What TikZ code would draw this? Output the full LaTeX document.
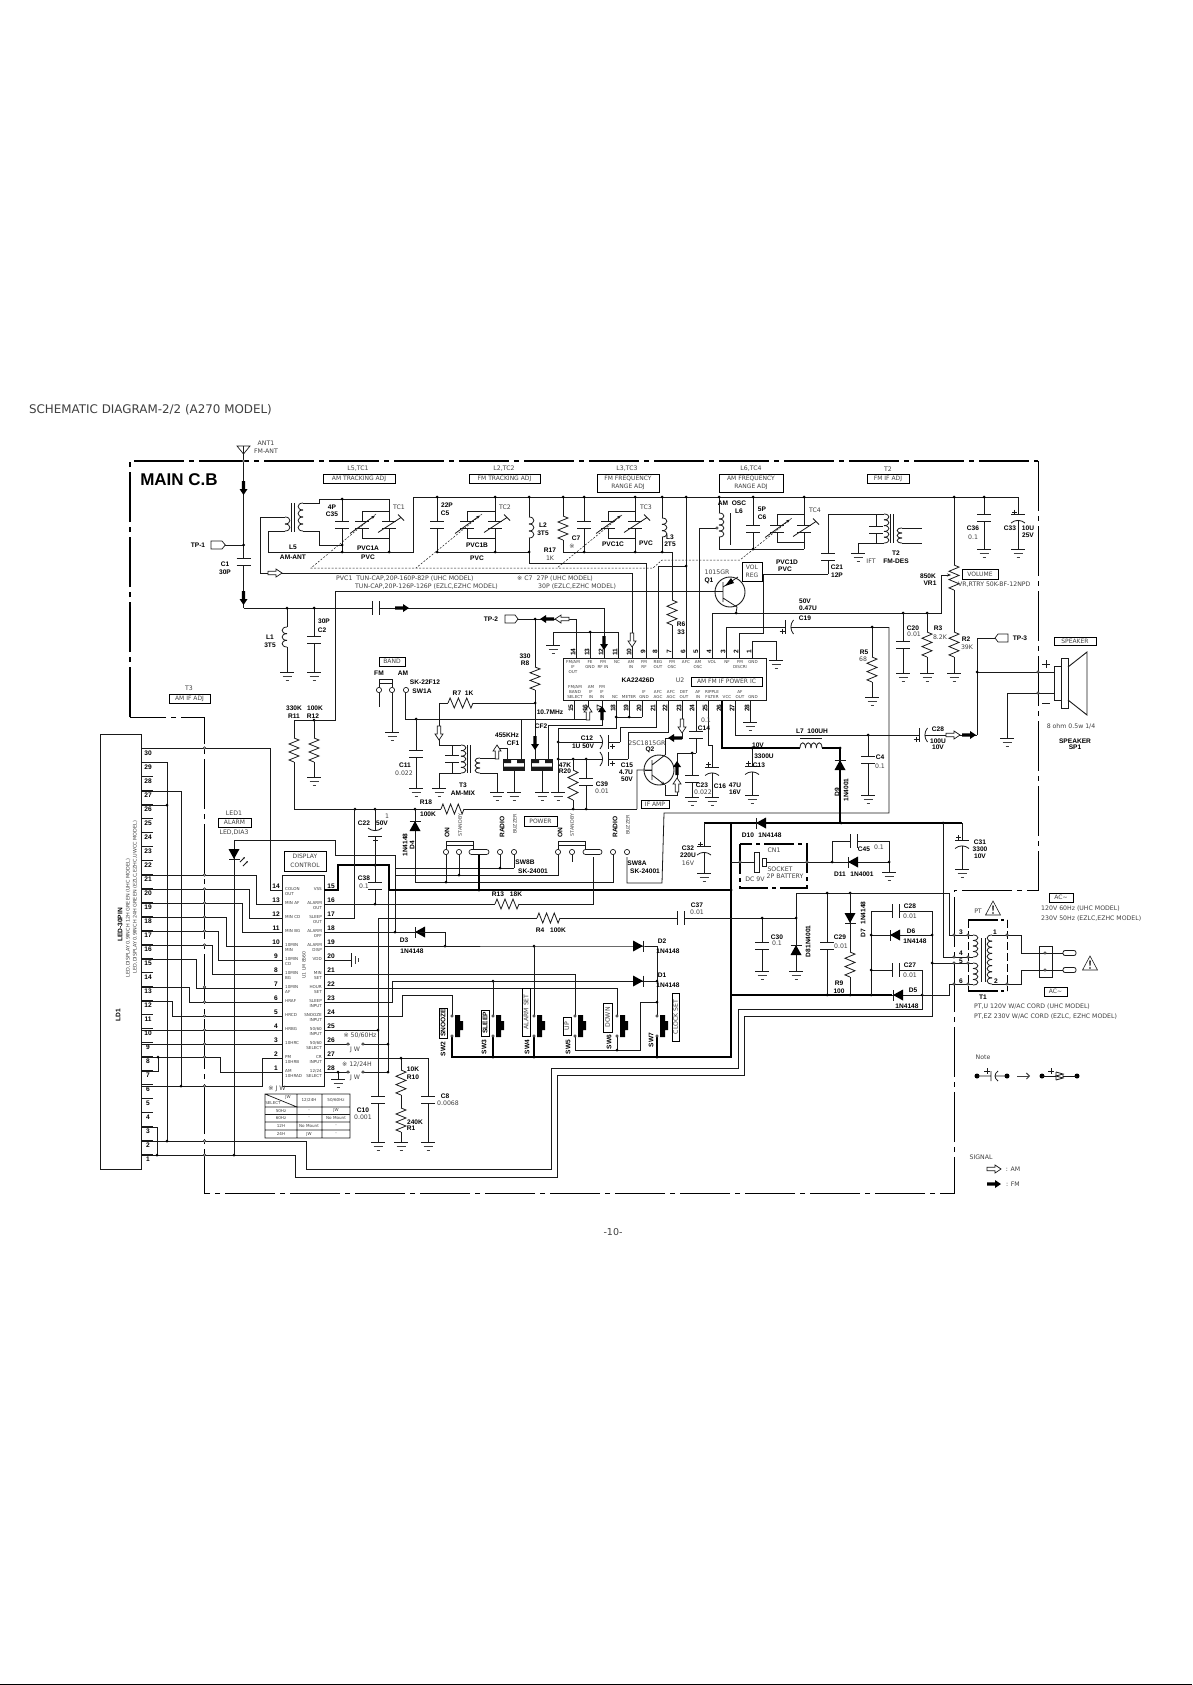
\documentclass[tikz,border=0pt]{standalone}
\usepackage{fontspec}
\setmainfont{DejaVu Sans}
\newfontfamily\labfont{Liberation Sans}
\usetikzlibrary{arrows.meta}
\definecolor{ink}{HTML}{1A1A1A}
\definecolor{soft}{HTML}{404040}
\newcount\nc
\tikzset{
 w/.style={line width=.8pt,draw=ink,line join=miter},
 tk/.style={line width=2.2pt,draw=black},
 md/.style={line width=1.4pt,draw=black},
 frameline/.style={draw=black,dash pattern=on 50pt off 5pt on 5pt off 5pt},
 dashgang/.style={line width=.5pt,draw=ink,dash pattern=on 2pt off 1.5pt},
 boldlab/.style={inner sep=0pt,text=black,font=\labfont\fontsize{6.6}{7.2}\selectfont\bfseries,align=center},
 thinlab/.style={inner sep=0pt,text=soft,font=\fontsize{6.2}{7}\selectfont,align=center},
 tiny/.style={inner sep=0pt,text=soft,font=\fontsize{4.1}{5}\selectfont,align=center},
 boxlab/.style={draw=black,line width=.7pt,fill=white,inner sep=0pt,text=soft,font=\fontsize{6}{8.5}\selectfont,align=center},
}
\newcommand\zN{\global\advance\nc by 1 }
\newcommand\zB[3]{\zN\node[boldlab] (n\the\nc) at (#1,#2) {#3};}
\newcommand\zT[3]{\zN\node[thinlab] (n\the\nc) at (#1,#2) {#3};}
\newcommand\zL[3]{\zN\node[thinlab,anchor=west] (n\the\nc) at (#1,#2) {#3};}
\newcommand\zBR[3]{\zN\node[boldlab,rotate=90] (n\the\nc) at (#1,#2) {#3};}
\newcommand\zTR[3]{\zN\node[thinlab,rotate=90,font=\fontsize{4.8}{6}\selectfont] (n\the\nc) at (#1,#2) {#3};}
\newcommand\zX[5]{\zN\draw[draw=black,line width=.7pt,fill=white] (#1,#2) rectangle (#3,#4); \node[thinlab,font=\fontsize{6}{8.5}\selectfont] (n\the\nc) at ({(#1+#3)/2},{(#2+#4)/2}) {#5};}
\newcommand\zXR[5]{\zN\draw[draw=black,line width=.7pt,fill=white] (#1,#2) rectangle (#3,#4); \node[thinlab,rotate=90] (n\the\nc) at ({(#1+#3)/2},{(#2+#4)/2}) {#5};}
\newcommand\zXB[5]{\zN\draw[draw=black,line width=.7pt,fill=white] (#1,#2) rectangle (#3,#4); \node[boldlab,rotate=90] (n\the\nc) at ({(#1+#3)/2},{(#2+#4)/2}) {#5};}
\newcommand\zG[2]{\begin{scope}[shift={(#1,#2)}]\draw[w] (-7,0)--(7,0); \draw[w,draw=soft,line width=.6pt] (-4.5,4)--(4.5,4); \draw[w,draw=soft,line width=.6pt] (-1.5,8)--(1.5,8);\end{scope}}
\newcommand\zD[2]{\fill[black] (#1,#2) circle (1.5pt);}
\newcommand\zO[2]{\draw[line width=.5pt,draw=ink,fill=white] (#1,#2) circle (1.3pt);}
\newcommand\zC[2]{\draw[line width=.7pt,draw=ink,fill=white] (#1,#2) circle (2.6pt);}
\newcommand\zVR[3]{\pgfmathsetmacro\hh{(#3-#2)/12}\draw[w] (#1,#2) -- ++(5,\hh) -- ++(-10,{2*\hh}) -- ++(10,{2*\hh}) -- ++(-10,{2*\hh}) -- ++(10,{2*\hh}) -- ++(-10,{2*\hh}) -- (#1,#3);}
\newcommand\zHR[3]{\pgfmathsetmacro\hh{(#3-#2)/12}\draw[w] (#2,#1) -- ++(\hh,-5) -- ++({2*\hh},10) -- ++({2*\hh},-10) -- ++({2*\hh},10) -- ++({2*\hh},-10) -- ++({2*\hh},10) -- (#3,#1);}
\newcommand\zVC[4]{\draw[w] (#1,#2)--(#1,{#3-3.5}) (#1,{#3+3.5})--(#1,#4) ({#1-7},{#3-3.5})--({#1+7},{#3-3.5}) ({#1-7},{#3+3.5})--({#1+7},{#3+3.5});}
\newcommand\zHC[4]{\draw[w] (#2,#1)--({#3-3.5},#1) ({#3+3.5},#1)--(#4,#1) ({#3-3.5},{#1-7})--({#3-3.5},{#1+7}) ({#3+3.5},{#1-7})--({#3+3.5},{#1+7});}
\newcommand\zVP[4]{\draw[w] (#1,#2)--(#1,{#3-3.5}) (#1,{#3+2})--(#1,#4) ({#1-7},{#3-3.5})--({#1+7},{#3-3.5}); \draw[w] ({#1-7},{#3+5}) .. controls ({#1-3},{#3+1.5}) and ({#1+3},{#3+1.5}) .. ({#1+7},{#3+5}); \draw[w] ({#1-6},{#3-6})--({#1-1},{#3-6}) ({#1-3.5},{#3-8.5})--({#1-3.5},{#3-3.5});}
\newcommand\zVPR[4]{\draw[w] (#1,#2)--(#1,{#3-2}) (#1,{#3+3.5})--(#1,#4) ({#1-7},{#3+3.5})--({#1+7},{#3+3.5}); \draw[w] ({#1-7},{#3-5}) .. controls ({#1-3},{#3-1.5}) and ({#1+3},{#3-1.5}) .. ({#1+7},{#3-5}); \draw[w] ({#1-2},{#3+7})--({#1+3},{#3+7}) ({#1+.5},{#3+4.5})--({#1+.5},{#3+9.5});}
\newcommand\zHP[4]{\draw[w] (#2,#1)--({#3-3.5},#1) ({#3+2},#1)--(#4,#1) ({#3-3.5},{#1-7})--({#3-3.5},{#1+7}); \draw[w] ({#3+5},{#1-7}) .. controls ({#3+1.5},{#1-3}) and ({#3+1.5},{#1+3}) .. ({#3+5},{#1+7}); \draw[w] ({#3-9},{#1+4})--({#3-4},{#1+4}) ({#3-6.5},{#1+1.5})--({#3-6.5},{#1+6.5});}
\newcommand\zHPR[4]{\draw[w] (#2,#1)--({#3-2},#1) ({#3+3.5},#1)--(#4,#1) ({#3+3.5},{#1-7})--({#3+3.5},{#1+7}); \draw[w] ({#3-5},{#1-7}) .. controls ({#3-1.5},{#1-3}) and ({#3-1.5},{#1+3}) .. ({#3-5},{#1+7}); \draw[w] ({#3+5},{#1+4})--({#3+10},{#1+4}) ({#3+7.5},{#1+1.5})--({#3+7.5},{#1+6.5});}
\newcommand\zVL[5]{\pgfmathsetmacro\hh{(#3-#2)/#5}\foreach \i in {1,...,#5}{\draw[w] (#1,{#2+(\i-1)*\hh}) .. controls ({#1+#4*6.5},{#2+(\i-1)*\hh}) and ({#1+#4*6.5},{#2+\i*\hh}) .. (#1,{#2+\i*\hh});}}
\newcommand\zHL[5]{\pgfmathsetmacro\hh{(#3-#2)/#5}\foreach \i in {1,...,#5}{\draw[w] ({#2+(\i-1)*\hh},#1) .. controls ({#2+(\i-1)*\hh},{#1+#4*7}) and ({#2+\i*\hh},{#1+#4*7}) .. ({#2+\i*\hh},#1);}}
\newcommand\zF[3]{\begin{scope}[shift={(#1,#2)},rotate=#3]\fill[black] (-7,-1.7)--(1,-1.7)--(1,-4)--(7,0)--(1,4)--(1,1.7)--(-7,1.7)--cycle;\end{scope}}
\newcommand\zA[3]{\begin{scope}[shift={(#1,#2)},rotate=#3]\draw[line width=.7pt,draw=ink,fill=white] (-7,-1.7)--(1,-1.7)--(1,-4)--(7,0)--(1,4)--(1,1.7)--(-7,1.7)--cycle;\end{scope}}
\newcommand\zDi[3]{\begin{scope}[shift={(#1,#2)},rotate=#3]\fill[black] (-5,-5.5)--(5,0)--(-5,5.5)--cycle; \draw[w] (5,-5.5)--(5,5.5);\end{scope}}
\newcommand\zPV[2]{\begin{scope}[shift={(#1,#2)}]\draw[w] (-7,-3.5)--(7,-3.5) (-7,3.5)--(7,3.5); \draw[w,-{Stealth[length=4pt]}] (-12,9)--(13,-9);\end{scope}}
\newcommand\zTC[2]{\begin{scope}[shift={(#1,#2)}]\draw[w] (-7,-3.5)--(7,-3.5) (-7,3.5)--(7,3.5); \draw[w] (-11,8)--(12,-7) (9,-10)--(15,-4);\end{scope}}
\newcommand\zCF[1]{\begin{scope}[shift={(#1,0)}]\draw[w,fill=white] (-10.5,759) rectangle (10.5,770); \fill[ink] (-10,759.5) rectangle (-3,763) (3,759.5) rectangle (10,763) (-10.5,766.5) rectangle (10.5,770); \draw[w] (0,770)--(0,792);\end{scope}\zG{#1}{792}}
\newcommand\zSW[1]{\fill[black] ({#1+3},1015) rectangle ({#1+8},1037) ({#1+8},1021) rectangle ({#1+11},1030); \zO{#1}{1016}\zO{#1}{1036}}
\newcommand\zWarn[2]{\begin{scope}[shift={(#1,#2)}]\draw[line width=.6pt,draw=ink] (0,-7)--(7.5,7)--(-7.5,7)--cycle; \fill[black] (-.8,-2.5)--(.8,-2.5)--(.4,3)--(-.4,3)--cycle; \fill[black] (0,5) circle (.8pt);\end{scope}}
\newcommand\zTP[3]{\draw[line width=.7pt,draw=ink,fill=white] (#1,{#2-4})--(#3,{#2-4})--({#3+(#3-#1)*.3},#2)--(#3,{#2+4})--(#1,{#2+4})--cycle;}
\begin{document}
\begin{tikzpicture}[x=1pt,y=-1pt]
\useasboundingbox (0,0) rectangle (1192,1685);
\fill[white] (0,0) rectangle (1192,1685);
\draw[line width=1pt,draw=black] (0,1684.3)--(1192,1684.3);
% frame
\draw[frameline,line width=1.7pt] (130,717)--(130,461)--(1038,461);
\draw[frameline,line width=1pt] (1038,461)--(1038,890)--(954,890)--(954,1193)--(204,1193)--(204,717)--(130,717);
\zT{150.5}{410}{\fontsize{11.9}{13}\selectfont SCHEMATIC DIAGRAM-2/2 (A270 MODEL)}
\zT{613}{1232}{\fontsize{9.5}{12}\selectfont -10-}
\zN\node[inner sep=0pt,font=\labfont\fontsize{17}{18}\selectfont\bfseries] (n\the\nc) at (179,480) {MAIN C.B};
% antenna
\draw[w] (243.5,446)--(243.5,558);
\draw[line width=.7pt,draw=ink] (237,446)--(250,446)--(243.5,454)--cycle;
\zO{243.5}{461}
\zVC{243.5}{545}{562}{608}
\draw[w] (243.5,608)--(372,608);
\zHC{608}{372}{375.5}{604}
\draw[w] (604,608)--(604,658);
\draw[w] (225,545)--(243.5,545);
\zTP{211}{545}{222}
\zD{243.5}{545}
\zF{243.5}{488}{-90}\zF{243.5}{598}{-90}\zF{402}{608}{0}\zF{604}{643}{-90}
% L1 C2
\draw[w] (287,608)--(287,627) (287,647)--(287,672);
\zVL{287}{627}{647}{-1}{3}\zG{287}{672}\zD{287}{608}
\zVC{314}{608}{640}{672}\zG{314}{672}\zD{314}{608}
% L5 section
\draw[w] (285,517)--(260,517)--(260,573)--(632,573)--(632,658);
\zVL{285}{517}{531}{1}{2}
\draw[w] (285,531)--(268,531)--(268,552)--(413,552)--(413,497)--(1018,497);
\draw[w] (291,503)--(291,532) (294,503)--(294,532);
\zVL{303}{503}{531}{-1}{4}
\draw[w] (303,503)--(319,503)--(319,499)--(389,499)--(389,521);
\draw[w] (303,531)--(319,531)--(319,545)--(342,545);
\zVC{342}{499}{524.5}{552}
\draw[w] (362,521)--(362,511)--(389,511) (362,528)--(362,538)--(389,538) (389,528)--(389,552);
\zPV{362}{524.5}\zTC{389}{524.5}
\zD{342}{499}\zD{342}{545}\zD{342}{552}\zD{389}{552}
\zA{275}{573}{0}
% C5 section
\zVC{437}{497}{524.5}{552}
\draw[w] (437,552)--(529,552);
\draw[w] (467,521)--(467,511)--(495,511) (467,528)--(467,538)--(495,538) (495,497)--(495,521) (495,528)--(495,552);
\zPV{467}{524.5}\zTC{495}{524.5}
\zD{437}{497}\zD{495}{497}\zD{495}{552}\zD{437}{552}
\draw[w] (529,497)--(529,517) (529,538)--(529,563)--(646,563)--(646,658);
\zVL{529}{517}{538}{1}{3}
\zD{529}{497}\zD{529}{552}
% R17, C7, TC3, L3
\draw[w] (563,497)--(563,516) (563,540)--(563,552)--(672,552)--(672,600) (672,625)--(672,658);
\zVR{563}{516}{540}\zVR{672}{600}{625}
\zVC{584}{497}{524.5}{552}
\draw[w] (608,521)--(608,511)--(635,511) (608,528)--(608,538)--(635,538) (635,497)--(635,521) (635,528)--(635,552);
\zPV{608}{524.5}\zTC{635}{524.5}
\draw[w] (662,497)--(662,518) (662,537)--(662,552);
\zVL{662}{518}{537}{1}{3}
\zD{563}{497}\zD{584}{497}\zD{635}{497}\zD{662}{497}\zD{584}{552}\zD{635}{552}\zD{662}{552}
\draw[w] (686,497)--(686,658) (658,658)--(658,566)--(686,566);
\zD{686}{497}\zD{686}{566}
% L6
\draw[w] (719,497)--(719,513) (719,537)--(719,549)--(804,549);
\zVL{719}{513}{537}{1}{4}
\draw[w] (730,513)--(730,545);
\draw[w] (699,658)--(699,528)--(717,528);\zO{717}{528}
\zVC{753}{497}{528.5}{549}
\draw[w] (777,525)--(777,514)--(804,514) (777,532)--(777,542)--(804,542) (804,497)--(804,525) (804,532)--(804,549);
\zPV{777}{528.5}\zTC{804}{528.5}
\zD{719}{497}\zD{753}{497}\zD{804}{497}\zD{753}{549}
% gang
\draw[dashgang] (376,514)--(311,568)--(653,568)--(662,560)--(740,560)--(792,518);
\draw[dashgang] (482,514)--(416,568) (622,515)--(557,568);
% C21, T2
\zVC{828}{514}{556.5}{574}
\draw[w] (828,514)--(884,514) (828,574)--(763,574)--(763,633)--(739,633)--(739,658);
\zVL{884}{514}{543}{1}{5}
\zVC{876}{514}{530}{543}
\draw[w] (858,553)--(858,543)--(884,543);\zG{858}{553}
\draw[w] (890,514)--(890,543) (893,514)--(893,543);
\zVL{902}{528}{543}{-1}{3}
\draw[w] (902,528)--(922,528) (902,543)--(922,543);
% right side
\draw[w] (954,497)--(954,565) (954,590)--(954,632) (954,657)--(954,673);
\zVR{954}{565}{590}\zVR{954}{632}{657}\zG{954}{673}\zD{954}{497}
\zVC{984}{497}{518}{549}\zG{984}{549}\zD{984}{497}
\zVP{1018}{497}{518}{549}\zG{1018}{549}
\draw[w,-{Stealth[length=4pt]}] (712,658)--(712,613)--(941,613)--(941,575)--(951,575);
\zD{736}{613}\zD{903}{613}\zD{927}{613}
\zVC{903}{613}{644.5}{673}\zG{903}{673}
\draw[w] (927,613)--(927,632) (927,657)--(927,673);\zVR{927}{632}{657}\zG{927}{673}
% C19
\draw[w] (726,658)--(726,627)--(783,627);
\zHP{627}{783}{788.5}{889}
\draw[w] (889,627)--(889,813)--(664,813)--(662,883)--(627,883)--(627,857);
\draw[w] (872,627)--(872,657) (872,682)--(872,697);\zVR{872}{657}{682}\zG{872}{697}\zD{872}{627}
% TP-3, speaker
\draw[w] (995,638)--(977,638)--(977,735) (977,672)--(1054,672) (1054,693)--(1007,693)--(1007,738);
\zTP{1008}{638}{998}
\zD{977}{672}\zO{1038}{672}\zO{1038}{693}\zG{1007}{738}
\draw[line width=.9pt,draw=ink,fill=white] (1054,666) rectangle (1061,700) (1061,658) rectangle (1068,708);
\draw[line width=.9pt,draw=ink] (1068,667)--(1087,652)--(1087,715)--(1068,700);
% C28, pin 27
\draw[w] (735,700)--(735,735)--(917,735);
\zHP{735}{917}{922.5}{977}
\zD{868}{735}\zVC{868}{735}{759.5}{795}\zG{868}{795}
\zA{953}{735}{0}\zF{969}{735}{0}
% U2 wires
\draw[w] (518,619)--(576,619)--(576,658);
\draw[w] (535,619)--(535,667) (535,690)--(535,760);\zVR{535}{667}{690}
\zD{535}{619}\zD{535}{703}
\zTP{505}{619}{515}
\zF{547}{619}{180}\zA{562}{619}{180}
\draw[w] (439,745)--(439,703)--(448,703) (473,703)--(535,703);\zHR{703}{448}{473}
\draw[w] (553,645)--(553,632)--(618,632)--(618,658) (590,632)--(590,658);\zG{553}{645}\zD{590}{632}
\draw[w] (752,658)--(752,641)--(776,641)--(776,660);\zG{776}{660}
\draw[w] (750,700)--(750,722);\zG{750}{722}
\zA{632}{640}{-90}
\draw[w] (574,700)--(574,719)--(405,719) (588,700)--(588,719)--(574,719) (521,719)--(521,760) (405,693)--(405,719);
\draw[w] (602,700)--(602,725)--(548,725)--(548,760);
\draw[w] (616,700)--(616,728)--(558,728)--(558,792);\zG{558}{792}
\draw[w] (616,717)--(642,717) (629,700)--(629,717) (642,700)--(642,717);
\zD{616}{717}\zD{629}{717}\zD{416}{719}
\zA{588}{713}{90}\zF{602}{713}{90}
\zD{558}{742}\zD{558}{759}\zD{573}{759}\zD{586}{759}
\zHPR{742}{558}{605}{620}
\draw[w] (620,742)--(620,727)--(656,727)--(656,700);
\zHPR{759}{558}{605}{628}
\draw[w] (628,759)--(628,732)--(668,732)--(668,700);
\draw[w] (682,700)--(682,738)--(665,738)--(665,755);
\zF{675}{738}{180}\zA{682}{726}{-90}
% Q2
\draw[line width=.9pt,draw=ink] (659,770) circle (15pt);
\draw[w] (652,760)--(652,780) (652,770)--(637,770)--(637,809) (652,765)--(665,755);
\draw[w,-{Stealth[length=4pt]}] (652,775)--(665,785);
\draw[w] (665,785)--(665,795)--(677,795)--(677,753)--(696,753);
\zA{677}{785}{90}\zF{677}{768}{90}\zD{692}{753}
\zVC{696}{700}{735}{753}
\zVC{692}{753}{778.5}{797}\zG{692}{797}
\draw[w] (708,700)--(708,745)--(712,745);
\zVP{712}{745}{770.5}{797}\zG{712}{797}
% pin 26 thick
\draw[md] (722,700)--(722,748)--(800,748);
\draw[md] (822,748)--(840,748)--(840,823);
\zHL{748}{800}{822}{-1}{4}
\draw[w] (800,738)--(822,738);
\zDi{840}{765}{90}\zD{840}{748}
\zVP{752}{748}{769.5}{795}\zG{752}{795}\zD{752}{748}
% Q1
\draw[line width=.9pt,draw=ink] (730,592) circle (15pt);
\draw[w] (723,582)--(723,602) (723,598)--(737,607)--(736,613);
\draw[w] (738,577)--(723,587);
\fill[black] (725,586)--(731,578)--(734,583)--cycle;
\draw[w] (294,720)--(335,720)--(335,591)--(723,591);
\zD{314}{720}
\draw[w] (294,720)--(294,738) (294,762)--(294,809)--(441,809) (464,809)--(637,809);
\zVR{294}{738}{762}\zHR{809}{441}{464}
\draw[w] (314,720)--(314,738) (314,762)--(314,777);\zVR{314}{738}{762}\zG{314}{777}
\zD{355}{809}\zD{375}{809}\zD{415}{809}\zD{573}{809}\zD{586}{809}
% band
\draw[w] (379,693)--(379,707) (392,693)--(392,732);\zG{392}{732}
\draw[line width=.7pt,draw=ink] (379,687)--(379,679)--(392,679)--(392,687) (379,683)--(392,683);
\zC{379}{690}\zC{392}{690}\zC{406}{690}
\zVC{416}{719}{753.5}{788}\zG{416}{788}
% T3
\draw[w] (439,745)--(461,745) (439,773)--(461,773) (439,773)--(439,788);\zG{439}{788}
\zVL{461}{745}{773}{1}{5}
\zVC{452}{745}{758.5}{773}
\draw[w] (467,745)--(467,773) (470,745)--(470,773);
\zVL{480}{758}{773}{-1}{3}
\draw[w] (480,758)--(497,758)--(497,748)--(507,748)--(507,760) (480,773)--(497,773)--(497,792);\zG{497}{792}
\zA{439}{733}{-90}\zA{497}{752}{90}
\zCF{514}\zCF{542}
\zF{535}{743}{-90}
% R20, C39
\draw[w] (573,759)--(573,770) (573,800)--(573,809);\zVR{573}{770}{800}
\zVC{586}{759}{781.5}{809}
% upper thick power rail
\draw[tk] (731,823)--(962,823);
\draw[tk] (731,823)--(731,1057)--(452,1057)--(452,1036);
\draw[tk] (704,823)--(731,823);
\draw[tk] (493,1036)--(493,1057) (534,1036)--(534,1057) (657,1036)--(657,1057);
\zVP{704}{823}{850}{873}\zG{704}{873}
\zVP{962}{823}{843.5}{869}\zG{962}{869}
\zDi{761}{823}{180}\zD{841}{823}\zD{943}{823}
\draw[w] (943,823)--(943,957)--(968,957);
% CN1
\draw[frameline,line width=1.2pt,dash pattern=on 30pt off 4pt on 4pt off 4pt] (740,844) rectangle (807,888);
\draw[w] (731,862)--(754,862) (766,862)--(889,862)--(889,872);
\draw[w,fill=white] (754,852) rectangle (759,872) (762,858) rectangle (766,866);
\zO{740}{862}\zO{807}{862}\zD{832}{862}\zD{889}{862}\zG{889}{872}
\zDi{853}{862}{180}
\draw[w] (832,862)--(832,841);
\zHC{841}{832}{853.5}{889}
\draw[w] (889,841)--(889,862);
% AC section
\draw[w] (378,918)--(537,918) (560,918)--(677,918);\zHR{918}{537}{560}
\zHC{918}{677}{680.5}{796}
\draw[w] (796,893)--(949,893)--(949,935)--(968,935);
\draw[w] (796,893)--(796,971);\zDi{796}{950}{90}\zG{796}{971}
\zVC{762}{918}{946}{971}\zG{762}{971}\zD{762}{918}\zD{796}{918}
\zVC{827}{893}{946}{995}\zD{827}{893}\zD{850}{893}
\draw[w] (850,893)--(850,952) (850,977)--(850,995);\zVR{850}{952}{977}\zDi{850}{918}{-90}
\draw[tk] (731,995)--(892,995);
\zD{827}{995}\zD{850}{995}\zD{871}{995}
\draw[w] (892,995)--(949,995)--(949,984)--(968,984);
\zDi{898}{995}{180}\zD{922}{995}
\draw[w] (871,995)--(871,911);
\zHC{911}{871}{895.5}{932}
\draw[w] (932,911)--(932,1016)--(744,1016)--(744,1075)--(557,1075)--(557,1177)--(295,1177)--(295,1155)--(141,1155);
\draw[w] (871,935)--(932,935);\zDi{895}{935}{180}\zD{871}{935}\zD{932}{935}
\zHC{970}{871}{895.5}{922}\zD{871}{970}
\draw[w] (922,970)--(922,1009)--(738,1009)--(738,1068)--(551,1068)--(551,1169)--(306,1169)--(306,1141)--(141,1141);
\draw[w] (932,963)--(968,963);\zD{932}{963}
% T1
\draw[line width=1.5pt,draw=black,dash pattern=on 30pt off 3pt on 3pt off 3pt] (968,920)--(1007,920) (968,991)--(1007,991);
\draw[line width=.7pt,draw=black,dash pattern=on 8pt off 3pt] (968,920)--(968,991) (1007,920)--(1007,991);
\draw[w] (968,935)--(973,935) (968,957)--(973,957) (968,963)--(973,963) (968,984)--(973,984);
\zVL{973}{935}{957}{1}{4}\zVL{973}{963}{985}{1}{4}
\draw[w] (981,938)--(981,982) (985,938)--(985,982);
\zVL{992}{935}{984}{-1}{8}
\draw[w] (992,935)--(1021,935)--(1021,953)--(1063,953) (992,984)--(1021,984)--(1021,970)--(1063,970);
\foreach \p in {935,957,963,984}{\zO{954}{\p}\zO{968}{\p}}
\zO{1007}{935}\zO{1007}{984}
\draw[w] (1039,946) rectangle (1052,977);
\zO{1045}{953}\zO{1045}{970}
\draw[w,fill=white,rounded corners=2pt] (1063,950.5) rectangle (1076,955.5) (1063,967.5) rectangle (1076,972.5);
\zWarn{993}{908}\zWarn{1090}{963}
% U1 wires
\draw[line width=.9pt,draw=ink,fill=white] (282,875) rectangle (324,1086);
\draw[w] (141,748)--(270,748)--(270,890)--(282,890);
\draw[w] (141,875)--(256,875)--(256,904)--(282,904);
\draw[w] (141,889)--(249,889)--(249,918)--(282,918);
\draw[w] (141,903)--(242,903)--(242,932)--(282,932);
\draw[w] (141,917)--(226,917)--(226,946)--(282,946);
\draw[w] (141,931)--(218,931)--(218,960)--(282,960);
\draw[w] (141,945)--(212,945)--(212,974)--(282,974);
\draw[w] (141,959)--(196,959)--(196,988)--(282,988);
\draw[w] (141,987)--(189,987)--(189,1002)--(282,1002);
\draw[w] (141,1001)--(172,1001)--(172,1016)--(282,1016);
\draw[w] (141,1030)--(282,1030);
\draw[w] (141,1044)--(282,1044);
\draw[w] (141,1057)--(220,1057)--(220,1072)--(282,1072);
\draw[w] (141,1086)--(262,1086)--(262,1058)--(282,1058);
\draw[w] (158,1057)--(158,1071)--(141,1071) (141,1127)--(157,1127)--(157,1155);
\draw[w] (141,762)--(167,762)--(167,1141) (141,805)--(167,805);
\draw[w] (141,791)--(181,791)--(181,1086);
\zD{158}{1057}\zD{157}{1155}\zD{167}{805}\zD{167}{1141}\zD{181}{1086}\zD{234}{1155}
\foreach \p in {748,875,889,903,917,931,945,987,1002,1016,1030,1044,1057,1086,1141,1155}{\zO{204.5}{\p}}
% LED
\draw[w] (234,1155)--(234,840)--(335,840)--(335,855)--(395,855)--(395,932);
\zDi{234}{854}{-90}
\draw[w,-{Stealth[length=2.5pt]}] (240,862)--(245,857);
\draw[w,-{Stealth[length=2.5pt]}] (243,866)--(248,861);
% power thick U1 pin 15
\draw[tk] (324,890)--(338,890)--(338,865)--(389,865)--(389,890)--(731,890);
\zD{375}{865}\zD{731}{890}
\zVPR{375}{809}{833}{865}
\zVC{375}{865}{886}{904}
\draw[w] (324,904)--(495,904) (519,904)--(593,904)--(593,857);\zHR{904}{495}{519}
\zD{375}{904}
\draw[w] (324,918)--(354,918)--(354,809);
\draw[w] (324,932)--(420,932);\zDi{420}{932}{180}\zD{395}{932}
\draw[w] (420,932)--(445,932)--(445,946);\zD{445}{946}
\draw[w] (324,946)--(633,946)--(657,946)--(657,1016);
\zDi{638}{946}{0}\zD{534}{946}
\draw[w] (534,946)--(534,1016);
\draw[w] (324,974)--(575,974)--(575,1016);
\draw[w] (324,1002)--(392,1002)--(392,981)--(657,981);
\zDi{638}{981}{0}\zD{493}{981}\zD{657}{981}
\draw[w] (493,981)--(493,1016);
\draw[w] (324,988)--(617,988)--(617,1016);
\draw[w] (324,1016)--(402,1016)--(402,995)--(452,995)--(452,1016);
\draw[w] (324,960)--(351,960) (351,953)--(351,967);
\draw[w,draw=soft,line width=.5pt] (355,956)--(355,964) (358,958)--(358,962);
\draw[w] (378,918)--(378,1030);\zVC{378}{1030}{1100}{1142}\zG{378}{1142}
\draw[w] (388,890)--(388,1072);
\draw[w] (324,1030)--(378,1030);\zD{378}{1030}
\draw[w] (324,1044)--(363,1044) (363,1044)--(388,1044);
\draw[w] (324,1072)--(388,1072) (338,1072)--(338,1079);\zG{338}{1079}\zD{338}{1072}
\zD{388}{1044}\zD{388}{1072}
\fill[white] (349.5,1043) rectangle (361.5,1045) (349.5,1071) rectangle (361.5,1073);
\zO{348}{1044}\zO{363}{1044}\zO{348}{1072}\zO{363}{1072}
\draw[w] (324,1058)--(428,1058) (401,1058)--(401,1070) (401,1095)--(401,1108) (401,1132)--(401,1142);
\zVR{401}{1070}{1095}\zVR{401}{1108}{1132}\zG{401}{1142}\zD{401}{1058}
\zVC{428}{1058}{1100}{1142}\zG{428}{1142}
% switches
\draw[w] (575,1036)--(575,1050)--(640,1050)--(640,1002)--(657,1002);
\draw[w] (617,1036)--(617,1050);\zD{617}{1050}\zD{657}{1002}
\zSW{452}\zSW{493}\zSW{534}\zSW{575}\zSW{617}\zSW{657}
\zD{493}{1057}\zD{534}{1057}\zD{657}{1057}
% SW8
\draw[line width=.7pt,draw=ink] (446,850)--(446,841)--(473,841)--(473,850) (446,845)--(473,845) (558,850)--(558,841)--(585,841)--(585,850) (558,845)--(585,845);
\draw[w] (446,855)--(446,882) (459,855)--(459,875) (500,855)--(500,868) (514,855)--(514,868);
\draw[w] (395,868)--(514,868) (395,875)--(558,875)--(558,855) (415,809)--(415,882)--(613,882)--(613,855) (572,855)--(572,862);
\draw[tk] (479,855)--(479,890);
\zD{446}{882}\zD{459}{875}\zD{500}{868}\zD{479}{890}
\zDi{415}{826}{90}
\foreach \p in {446,459,500,514,558,572,613,627}{\zC{\p}{852}}
\draw[line width=.7pt,draw=ink,fill=white,rounded corners=2.5pt] (469,849.5) rectangle (489,854.5) (583,849.5) rectangle (602,854.5);
\draw[w] (645,770)--(652,770);
% LD1
\draw[line width=1pt,draw=ink,fill=white] (100,734) rectangle (141,1169);
\foreach \n in {1,...,30}{\pgfmathsetmacro\yy{748+(30-\n)*14}\pgfmathsetmacro\yt{753+(30-\n)*14}
 \draw[w] (141,\yy)--(153,\yy);
 \zB{148}{\yt}{\n}}
\zBR{120}{925}{LED-30PIN}\zBR{118}{1015}{LD1}
\zN\node[thinlab,rotate=90,font=\fontsize{4.9}{7}\selectfont] (n\the\nc) at (128,918) {LED,DISPLAY 0.9INCH 12H GREEN (UHC MODEL)};
\zN\node[thinlab,rotate=90,font=\fontsize{4.9}{7}\selectfont] (n\the\nc) at (135,897) {LED,DISPLAY 0.9INCH 24H GREEN (EZLC,EZHC,UWCC MODEL)};
% U2
\draw[line width=.9pt,draw=ink,fill=white] (563,658) rectangle (766,700);
\foreach \x/\n in {576/14,590/13,604/12,618/11,632/10,646/9,658/8,672/7,686/6,699/5,712/4,726/3,739/2,752/1}{\zBR{\x-3}{652}{\n}}
\foreach \x/\n in {574/15,588/16,602/17,616/18,629/19,642/20,656/21,668/22,682/23,695/24,708/25,722/26,735/27,750/28}{\zBR{\x-3}{708}{\n}}
\foreach \x/\t in {573/{FM/AM\\IF\\OUT},590/FE\\GND,603/FM\\RF IN,617/NC,631/AM\\IN,644/FM\\RF,658/REG\\OUT,672/FM\\OSC,686/AFC,698/AM\\OSC,712/VOL,727/NF,740/FM\\DISCRI,753/GND}{\zN\node[tiny,anchor=north] (n\the\nc) at (\x,660) {\t};}
\foreach \x/\t in {575/{FM/AM\\BAND\\SELECT},591/AM\\IF\\IN,602/FM\\IF\\IN,615/NC,629/METER,644/IF\\GND,658/AFC\\AGC,671/AFC\\AGC,684/DET\\OUT,698/AF\\IN,712/RIPPLE\\FILTER,727/VCC,740/AF\\OUT,753/GND}{\zN\node[tiny,anchor=south] (n\the\nc) at (\x,699) {\t};}
\zB{638}{680}{KA22426D}\zT{680}{680}{U2}
\zX{691}{677}{762}{686}{AM FM IF POWER IC}
% U1 labels
\foreach \y/\n in {890/14,904/13,918/12,932/11,946/10,960/9,974/8,988/7,1002/6,1016/5,1030/4,1044/3,1058/2,1072/1}{\zB{276}{\y-4}{\n}}
\foreach \y/\n in {890/15,904/16,918/17,932/18,946/19,960/20,974/21,988/22,1002/23,1016/24,1030/25,1044/26,1058/27,1072/28}{\zB{331}{\y-4}{\n}}
\foreach \y/\t in {890/COLON\\OUT,904/MIN AF,918/MIN CD,932/MIN BG,946/10MIN\\MIN,960/10MIN\\CD,974/10MIN\\BG,988/10MIN\\AF,1002/HRAF,1016/HRCD,1030/HRBG,1044/10HRC,1058/PM\\10HRB,1072/AM\\10HRAD}{\zN\node[tiny,anchor=north west,align=left] (n\the\nc) at (285,\y-3) {\t};}
\foreach \y/\t in {890/VSS,904/ALARM\\OUT,918/SLEEP\\OUT,932/ALARM\\OFF,946/ALARM\\DISP,960/VDD,974/MIN\\SET,988/HOUR\\SET,1002/SLEEP\\INPUT,1016/SNOOZE\\INPUT,1030/{50/60\\INPUT},1044/{50/60\\SELECT},1058/CR\\INPUT,1072/{12/24\\SELECT}}{\zN\node[tiny,anchor=north east,align=right] (n\the\nc) at (322,\y-3) {\t};}
\zN\node[tiny,rotate=90,font=\fontsize{4.6}{5}\selectfont] (n\the\nc) at (304,965) {U1 LM 8560};
\zT{360}{1035}{※ 50/60Hz}\zT{355}{1050}{J W}\zT{357}{1064}{※ 12/24H}\zT{355}{1078}{J W}
% JW table
\zT{277}{1089}{※ J W}
\draw[line width=.7pt,draw=ink] (265,1094) rectangle (350,1138) (297,1094)--(297,1138) (322,1094)--(322,1138) (265,1107)--(350,1107) (265,1114.5)--(350,1114.5) (265,1122)--(350,1122) (265,1130)--(350,1130) (265,1094)--(297,1107);
\foreach \x/\y/\t in {288/1097/JW,273/1103/SELECT,309/1100/{12/24H},336/1100/{50/60Hz},281/1110.5/50Hz,309/1110.5/-,336/1110.5/JW,281/1118/60Hz,309/1118/-,336/1118/No Mount,281/1126/12H,309/1126/No Mount,336/1126/-,281/1134/24H,309/1134/JW,336/1134/-}{\zN\node[tiny] (n\the\nc) at (\x,\y) {\t};}
% bold labels
\zB{198}{545}{TP-1}\zB{225}{564}{C1}\zB{225}{572}{30P}
\zB{270}{637}{L1}\zB{270}{645}{3T5}\zB{324}{621}{30P}\zB{322}{630}{C2}
\zB{332}{507}{4P}\zB{332}{514}{C35}\zB{447}{505}{22P}\zB{445}{513}{C5}
\zB{293}{547}{L5}\zB{293}{557}{AM-ANT}\zB{368}{548}{PVC1A}\zB{368}{557}{PVC}
\zB{477}{545}{PVC1B}\zB{477}{558}{PVC}\zB{543}{525}{L2}\zB{543}{533}{3T5}
\zB{550}{550}{R17}\zB{576}{538}{C7}\zB{613}{544}{PVC1C}\zB{646}{543}{PVC}
\zB{670}{537}{L3}\zB{670}{544}{2T5}\zB{681}{624}{R6}\zB{681}{632}{33}
\zB{732}{503}{AM~~OSC}\zB{739}{511}{L6}\zB{762}{509}{5P}\zB{762}{517}{C6}
\zB{787}{562}{PVC1D}\zB{785}{569}{PVC}\zB{837}{567}{C21}\zB{837}{575}{12P}
\zB{896}{553}{T2}\zB{896}{561}{FM-DES}\zB{973}{528}{C36}\zB{1010}{528}{C33}
\zB{1028}{528}{10U}\zB{1028}{535}{25V}\zB{928}{576}{850K}\zB{930}{583}{VR1}
\zB{913}{628}{C20}\zB{938}{628}{R3}\zB{966}{639}{R2}\zB{1020}{638}{TP-3}
\zB{805}{601}{50V}\zB{808}{608}{0.47U}\zB{805}{618}{C19}\zB{864}{652}{R5}
\zB{938}{729}{C28}\zB{938}{741}{100U}\zB{938}{747}{10V}
\zB{1075}{741}{SPEAKER}\zB{1075}{747.5}{SP1}
\zB{491}{619}{TP-2}\zB{525}{656}{330}\zB{525}{663}{R8}\zB{550}{712}{10.7MHz}
\zB{709}{581}{Q1}\zB{650}{750}{Q2}
\zB{507}{735}{455KHz}\zB{513}{743}{CF1}\zB{541}{726}{CF2}
\zB{463}{785}{T3}\zB{463}{793}{AM-MIX}
\zB{587}{738}{C12}\zB{583}{746}{1U 50V}\zB{627}{765}{C15}\zB{626}{772}{4.7U}\zB{627}{779}{50V}
\zB{565}{765}{47K}\zB{565}{771}{R20}\zB{602}{784}{C39}
\zB{704}{728}{C14}\zB{702}{785}{C23}\zB{720}{786}{C16}\zB{735}{785}{47U}\zB{735}{792}{16V}
\zB{812}{731}{L7~~100UH}\zB{758}{745}{10V}\zB{764}{756}{3300U}\zB{759}{765}{C13}
\zB{880}{757}{C4}\zBR{837}{792}{D9}\zBR{846}{790}{1N4001}
\zB{379}{673}{FM}\zB{403}{673}{AM}\zB{425}{682}{SK-22F12}\zB{422}{691}{SW1A}\zB{463}{693}{R7~~1K}
\zB{294}{708}{330K}\zB{294}{716}{R11}\zB{315}{708}{100K}\zB{313}{716}{R12}
\zB{405}{765}{C11}\zB{364}{823}{C22}\zB{382}{823}{50V}\zB{364}{878}{C38}
\zB{426}{802}{R18}\zB{428}{814}{100K}\zBR{405}{845}{1N4148}\zBR{412}{845}{D4}
\zBR{447}{833}{ON}\zBR{502}{827}{RADIO}\zBR{560}{833}{ON}\zBR{615}{827}{RADIO}
\zTR{460}{825}{STANDBY}\zTR{515}{824}{BUZZER}\zTR{572}{825}{STANDBY}\zTR{628}{825}{BUZZER}
\zB{525}{862}{SW8B}\zB{533}{871}{SK-24001}\zB{637}{863}{SW8A}\zB{645}{871}{SK-24001}
\zB{498}{894}{R13}\zB{516}{894}{18K}\zB{540}{930}{R4}\zB{558}{930}{100K}\zB{697}{905}{C37}
\zB{404}{940}{D3}\zB{412}{951}{1N4148}
\zB{662}{941}{D2}\zB{668}{951}{1N4148}\zB{662}{975}{D1}\zB{668}{985}{1N4148}
\zB{748}{835}{D10}\zB{770}{835}{1N4148}\zB{864}{849}{C45}\zB{840}{874}{D11}\zB{862}{874}{1N4001}
\zB{688}{848}{C32}\zB{688}{855}{220U}\zB{980}{842}{C31}\zB{980}{849}{3300}\zB{980}{856}{10V}
\zB{777}{937}{C30}\zBR{808}{953}{D8}\zBR{808}{937}{1N4001}\zB{840}{937}{C29}
\zBR{863}{933}{D7}\zBR{863}{913}{1N4148}\zB{839}{983}{R9}\zB{839}{991}{100}
\zB{910}{906}{C28}\zB{910}{965}{C27}\zB{911}{931}{D6}\zB{915}{941}{1N4148}\zB{913}{990}{D5}\zB{907}{1006}{1N4148}
\zB{961}{932}{3}\zB{961}{953}{4}\zB{961}{961}{5}\zB{961}{981}{6}\zB{995}{932}{1}\zB{996}{981}{2}\zB{983}{997}{T1}
\zB{413}{1069}{10K}\zB{413}{1077}{R10}\zB{415}{1122}{240K}\zB{411}{1128}{R1}\zB{445}{1096}{C8}\zB{363}{1110}{C10}
\zBR{443}{1049}{SW2}\zBR{484}{1047}{SW3}\zBR{527}{1047}{SW4}\zBR{568}{1047}{SW5}\zBR{609}{1042}{SW6}\zBR{651}{1040}{SW7}
% thin labels
\zT{266}{443}{ANT1}\zT{266}{451}{FM-ANT}\zT{399}{507}{TC1}\zT{505}{507}{TC2}\zT{646}{507}{TC3}\zT{815}{510}{TC4}
\zT{358}{469}{L5,TC1}\zT{504}{469}{L2,TC2}\zT{627}{469}{L3,TC3}\zT{751}{469}{L6,TC4}\zT{888}{469}{T2}
\zT{550}{558}{1K}\zT{572}{546}{※}
\zL{336}{579}{PVC1~~TUN-CAP,20P-160P-82P (UHC MODEL)}
\zL{355}{587}{TUN-CAP,20P-126P-126P (EZLC,EZHC MODEL)}
\zL{517}{579}{※ C7~~27P (UHC MODEL)}
\zL{538}{587}{30P (EZLC,EZHC MODEL)}
\zT{871}{561}{IFT}\zT{973}{537}{0.1}\zT{914}{634}{0.01}\zT{940}{637}{8.2K}\zT{967}{647}{39K}\zT{863}{659}{68}
\zL{958}{585}{VR,RTRY 50K-BF-12NPD}
\zT{1071}{726}{8 ohm 0.5w 1/4}\zT{717}{572}{1015GR}
\zT{647}{743}{2SC1815GR}\zT{706}{720}{0.1}\zT{703}{792}{0.022}\zT{602}{791}{0.01}\zT{880}{766}{0.1}
\zT{404}{773}{0.022}\zT{387}{816}{1}\zT{364}{886}{0.1}\zT{697}{912}{0.01}\zT{688}{863}{16V}
\zT{189}{688}{T3}\zT{234}{813}{LED1}\zT{234}{833}{LED,DIA3}
\zT{774}{850}{CN1}\zT{780}{869}{SOCKET}\zT{785}{876}{2P BATTERY}\zT{755}{879}{DC 9V}\zT{879}{847}{0.1}
\zT{777}{943}{0.1}\zT{841}{946}{0.01}\zT{910}{916}{0.01}\zT{910}{975}{0.01}\zT{978}{911}{PT}
\zL{1041}{909}{120V 60Hz (UHC MODEL)}\zL{1041}{919}{230V 50Hz (EZLC,EZHC MODEL)}
\zL{974}{1007}{PT,U 120V W/AC CORD (UHC MODEL)}\zL{974}{1017}{PT,EZ 230V W/AC CORD (EZLC, EZHC MODEL)}
\zT{448}{1103}{0.0068}\zT{363}{1117}{0.001}
\zT{983}{1057}{Note}\zT{981}{1157}{SIGNAL}\zT{1013}{1169}{: AM}\zT{1013}{1184}{: FM}
% boxes
\zX{323}{474}{395}{483}{AM TRACKING ADJ}\zX{469}{474}{540}{483}{FM TRACKING ADJ}
\zX{597}{474}{659}{492}{FM FREQUENCY\\RANGE ADJ}\zX{719}{474}{783}{492}{AM FREQUENCY\\RANGE ADJ}
\zX{867}{474}{909}{483}{FM IF ADJ}\zX{169}{694}{210}{703}{AM IF ADJ}
\zX{742}{562}{762}{581}{VOL\\REG}\zX{962}{569}{998}{579}{VOLUME}\zX{1054}{637}{1096}{645}{SPEAKER}
\zX{379}{657}{405}{666}{BAND}\zX{218}{818}{251}{827}{ALARM}\zX{284}{851}{326}{871}{DISPLAY\\CONTROL}
\zX{641}{800}{669}{808}{IF AMP}\zX{524}{816}{557}{826}{POWER}
\zX{1049}{893}{1073}{902}{AC\textasciitilde}\zX{1044}{987}{1067}{996}{AC\textasciitilde}
\zXB{439}{1008}{447}{1038}{SNOOZE}\zXB{481}{1010}{489}{1036}{SLEEP}\zXR{522}{988}{530}{1036}{ALARM SET}
\zXR{563}{1017}{571}{1035}{UP}\zXR{603}{1003}{612}{1032}{DOWN}\zXR{672}{993}{679}{1041}{CLOCK SET}
% + and - speaker
\draw[w] (1042,664)--(1050,664) (1046,660)--(1046,668) (1042,703)--(1050,703);
% note
\fill[black] (977,1076) circle (2.5pt) (1007,1076) circle (2.5pt) (1042,1076) circle (2.5pt) (1077,1076) circle (2.5pt);
\draw[w] (977,1076)--(991,1076) (991,1071)--(991,1081) (998,1071) .. controls (994,1074) and (994,1078) .. (998,1081) (995,1076)--(1007,1076);
\draw[w] (984,1071)--(990,1071) (987,1068)--(987,1074);
\draw[line width=.9pt,draw=soft,-{Straight Barb[length=3pt]}] (1017,1076)--(1030,1076);
\draw[w] (1042,1076)--(1056,1076) (1063,1076)--(1077,1076) (1048,1071)--(1054,1071) (1051,1068)--(1051,1074);
\draw[w] (1056,1072)--(1063,1074)--(1056,1076)--(1063,1078)--(1056,1080) (1056,1072)--(1056,1080) (1063,1074)--(1063,1078);
\zA{994}{1169}{0}\zF{994}{1184}{0}
\end{tikzpicture}
\end{document}
